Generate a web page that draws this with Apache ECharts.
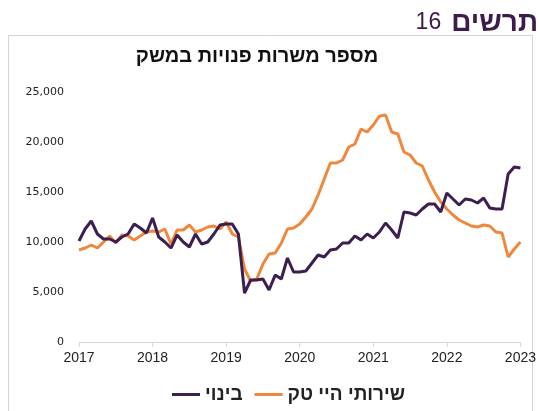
<!DOCTYPE html>
<html>
<head>
<meta charset="utf-8">
<script src="https://cdn.jsdelivr.net/npm/echarts@6/dist/echarts.min.js"></script>
<style>
  html, body { margin: 0; padding: 0; background: #fff; }
  #chart { width: 539px; height: 411px; }
</style>
</head>
<body>
<div id="chart"></div>
<script>
// שנים על ציר X (נתונים חודשיים, ינואר 2017 - ינואר 2023)
var years = ['2017', '2018', '2019', '2020', '2021', '2022', '2023'];
var yTicks = [0, 5000, 10000, 15000, 20000, 25000];

// בינוי
var construction = [
    10100, 11300, 12100, 10800, 10300, 10300, 10000, 10500, 10800, 11800, 11400, 10900,
    12400, 10500, 10000, 9400, 10700, 10000, 9500, 10800, 9800, 10000, 10800, 11700,
    11800, 11800, 10800, 4900, 6200, 6200, 6300, 5200, 6700, 6300, 8400, 7000,
    7000, 7100, 7900, 8700, 8500, 9200, 9300, 9900, 9900, 10600, 10200, 10800,
    10400, 11000, 11900, 11200, 10400, 13000, 12900, 12700, 13300, 13800, 13800, 13000,
    14900, 14300, 13700, 14300, 14200, 13900, 14400, 13400, 13300, 13300, 16800, 17500,
    17400
];

// שירותי היי טק
var hightech = [
    9200, 9400, 9700, 9400, 10000, 10600, 9900, 10700, 10600, 10200, 10600, 11000,
    11100, 11000, 11300, 9800, 11200, 11200, 11700, 11000, 11200, 11500, 11600, 11300,
    12000, 10800, 10500, 7300, 6100, 6300, 7800, 8800, 8900, 9900, 11300, 11400,
    11800, 12500, 13300, 14700, 16300, 17900, 17900, 18200, 19500, 19800, 21300, 21000,
    21700, 22600, 22700, 21000, 20800, 19000, 18700, 17900, 17600, 16200, 15000, 14000,
    13300, 12700, 12200, 11900, 11600, 11500, 11700, 11600, 11000, 10900, 8500, 9300,
    10000
];

// קטגוריות חודשיות
var months = [];
for (var i = 0; i < construction.length; i++) {
    months.push(years[Math.floor(i / 12)] + '-' + ((i % 12) + 1));
}

var hebFont = 'Arial, "Liberation Sans", "DejaVu Sans", sans-serif';

var chart = echarts.init(document.getElementById('chart'));
chart.setOption({
    backgroundColor: '#fff',
    animation: false,
    title: [{
        text: '{n|16}{b|תרשים}',
        right: -4,
        top: 4,
        textStyle: {
            rich: {
                n: { fontSize: 23, fontWeight: 'normal', color: '#3d1c4c', fontFamily: hebFont, padding: [0, 10, 0, 0] },
                b: { fontSize: 28, fontWeight: 'bold', color: '#3d1c4c', fontFamily: hebFont }
            }
        }
    }, {
        text: 'מספר משרות פנויות במשק',
        left: 252,
        textAlign: 'center',
        top: 41,
        textStyle: { fontSize: 20, fontWeight: 'bold', color: '#111', fontFamily: hebFont }
    }],
    graphic: [{
        type: 'rect',
        shape: { x: 8.5, y: 35.5, width: 524, height: 390 },
        style: { fill: 'none', stroke: '#d4d4d4', lineWidth: 1 },
        silent: true
    }],
    legend: {
        data: ['בינוי', 'שירותי היי טק'],
        left: 167,
        top: 380,
        icon: 'rect',
        itemWidth: 28,
        itemHeight: 3,
        itemGap: 12,
        textStyle: { fontSize: 19, fontWeight: 'bold', color: '#222', fontFamily: hebFont }
    },
    grid: { left: 79, right: 17, top: 92, bottom: 69 },
    xAxis: {
        type: 'category',
        data: months,
        boundaryGap: false,
        axisLine: { lineStyle: { color: '#d9d9d9', width: 1 } },
        axisTick: { show: true, interval: 11, length: 5, lineStyle: { color: '#d9d9d9' } },
        axisLabel: {
            interval: 11,
            margin: 9,
            fontSize: 14,
            color: '#222',
            fontFamily: 'Arial, "Liberation Sans", sans-serif',
            formatter: function (v) { return v.split('-')[0]; }
        },
        splitLine: { show: false }
    },
    yAxis: {
        type: 'value',
        min: yTicks[0],
        max: yTicks[yTicks.length - 1],
        interval: 5000,
        axisLine: { show: false },
        axisTick: { show: false },
        splitLine: { show: false },
        axisLabel: {
            margin: 15,
            fontSize: 11,
            color: '#222',
            fontFamily: '"DejaVu Sans", Verdana, sans-serif',
            formatter: function (v) { return v.toLocaleString('en-US'); }
        }
    },
    series: [{
        name: 'בינוי',
        type: 'line',
        data: construction,
        showSymbol: false,
        symbol: 'none',
        color: '#3c1f50',
        lineStyle: { width: 3, color: '#3c1f50' },
        z: 3
    }, {
        name: 'שירותי היי טק',
        type: 'line',
        data: hightech,
        showSymbol: false,
        symbol: 'none',
        color: '#ef883d',
        lineStyle: { width: 3, color: '#ef883d' },
        z: 2
    }]
});
</script>
</body>
</html>
